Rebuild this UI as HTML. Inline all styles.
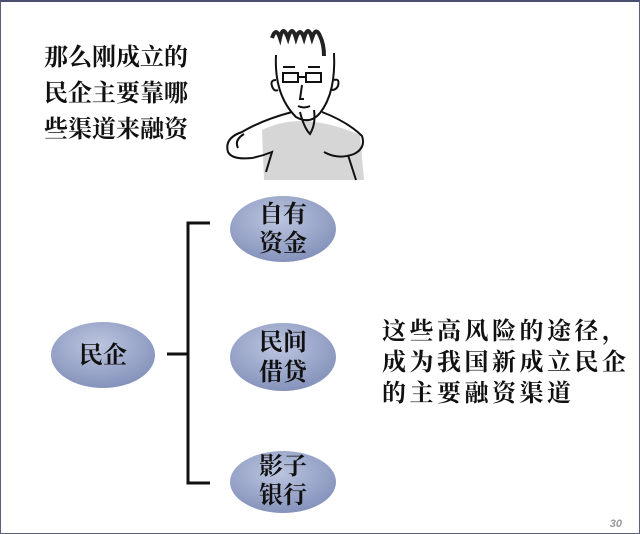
<!DOCTYPE html>
<html><head><meta charset="utf-8"><style>
body{margin:0;width:640px;height:533px;overflow:hidden;background:#fff;font-family:"Liberation Serif","Noto Serif CJK SC",serif;}
.f{position:absolute;left:0;top:0;width:638px;height:531px;border:1px solid #5a5f7a;border-top:2px solid #4a4f70;}
.t{position:absolute;font-weight:bold;color:#111;white-space:nowrap;}
</style></head><body>
<div class="f"></div>
<div class="t" style="left:44px;top:40px;font-size:24px;line-height:36px;">那么刚成立的<br>民企主要靠哪<br>些渠道来融资</div>
<div class="t" style="left:382px;top:317px;font-size:24px;line-height:31px;letter-spacing:3.5px;">这些高风险的途径，<br>成为我国新成立民企<br>的主要融资渠道</div>
<svg width="640" height="533" style="position:absolute;left:0;top:0">
<defs><radialGradient id="g" cx="45%" cy="35%" r="65%"><stop offset="0" stop-color="#bcc6e0"/><stop offset="1" stop-color="#8592bb"/></radialGradient></defs>
<ellipse cx="103" cy="355" rx="52" ry="33" fill="url(#g)"/>
<ellipse cx="283" cy="229" rx="53" ry="33" fill="url(#g)"/>
<ellipse cx="283" cy="357" rx="53" ry="34" fill="url(#g)"/>
<ellipse cx="283" cy="482" rx="53" ry="31" fill="url(#g)"/>
<g stroke="#111" stroke-width="3" fill="none">
<path d="M167 354H188M210 223H188V483H210"/>
</g>
<g font-family="Liberation Serif,Noto Serif CJK SC,serif" font-weight="bold" font-size="24" fill="#111" text-anchor="middle">
<text x="103" y="363">民企</text>
<text x="283" y="222">自有</text><text x="283" y="251">资金</text>
<text x="283" y="350">民间</text><text x="283" y="380">借贷</text>
<text x="283" y="474">影子</text><text x="283" y="503">银行</text>
</g>
<text x="622" y="527" font-family="Liberation Sans,sans-serif" font-style="italic" font-weight="bold" font-size="11" fill="#999" text-anchor="end">30</text>
<path d="M262 130q40-20 98 5l4 45h-100z" fill="#bbb" opacity=".6"/>
<g stroke="#111" stroke-width="2" fill="none">
<path d="M272 38q4 -12 8 0q3-14 8 0q4-14 8 0q4-12 8 0q4-14 8 0q4-12 8-2q4 8 4 20" stroke-width="4" stroke="#222"/>
<path d="M276 55q-2 40 20 62q14 8 24-4q16-20 14-60"/>
<path d="M276 80q-6 0-4 6q2 6 6 4M334 80q6-2 4 6q-2 4-6 4"/>
<rect x="283" y="73" width="15" height="9"/><rect x="306" y="73" width="15" height="9"/>
<path d="M298 77h8M283 67h12M308 67h12M302 85l-2 14h4M298 106q6 3 12 0"/>
<path d="M292 112q-30 8-50 20q-18 6-14 20q4 8 24 6q10-2 20-6l-6 20"/>
<path d="M322 112q26 10 40 24q4 12-8 18q-16 6-30-2"/>
<path d="M244 134q-10 6-6 14M300 112q4 16 10 22q6-10 4-24"/>
<path d="M348 155l8 25"/>
</g>
</svg>
</body></html>
